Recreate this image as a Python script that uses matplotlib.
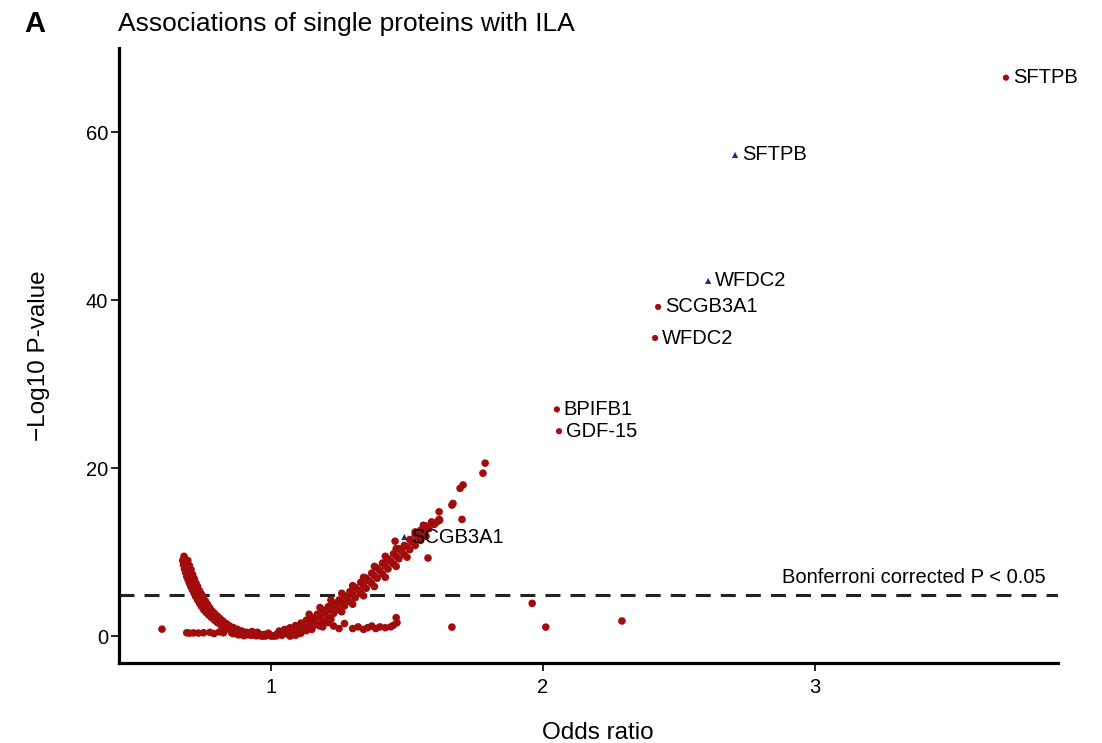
"""Volcano-style plot: single protein associations with ILA."""

from matplotlib import pyplot as plt

plt.rcParams['font.family'] = ['Liberation Sans', 'DejaVu Sans']

RED = '#A10D0D'
BLUE = '#1B2A8A'

# Unlabelled proteins, odds ratio (OR) and -log10 P-value (P), grouped by region
left_or = [
    0.680, 0.684, 0.688, 0.692, 0.696, 0.700, 0.705, 0.710, 0.715, 0.720,
    0.726, 0.732, 0.738, 0.745, 0.752, 0.760, 0.768, 0.777, 0.786, 0.796,
    0.806, 0.817, 0.829, 0.842, 0.856, 0.871, 0.887, 0.904, 0.922, 0.941,
    0.961, 0.980,
    0.694, 0.700, 0.706, 0.712, 0.718, 0.724, 0.730, 0.737, 0.744, 0.751,
    0.758, 0.766, 0.774, 0.783, 0.792, 0.802, 0.812, 0.823, 0.835, 0.848,
    0.862, 0.877, 0.893, 0.910, 0.928, 0.947, 0.966,
    0.675, 0.678, 0.682, 0.686, 0.690, 0.695, 0.700, 0.705, 0.711, 0.717,
    0.723, 0.730, 0.737, 0.745, 0.753, 0.762, 0.771, 0.781, 0.792, 0.803,
    0.815, 0.828, 0.842, 0.857, 0.873, 0.890, 0.908, 0.927, 0.947,
]
left_p = [
    9.5, 9.1, 8.7, 8.2, 7.8, 7.4, 6.9, 6.5, 6.1, 5.7,
    5.3, 5.0, 4.6, 4.2, 3.8, 3.4, 3.1, 2.7, 2.4, 2.1,
    1.8, 1.5, 1.2, 1.0, 0.75, 0.55, 0.4, 0.25, 0.15, 0.08,
    0.03, 0.01,
    9.0, 8.4, 7.9, 7.3, 6.8, 6.3, 5.9, 5.4, 5.0, 4.6,
    4.2, 3.8, 3.4, 3.0, 2.7, 2.4, 2.1, 1.8, 1.5, 1.2,
    1.0, 0.8, 0.6, 0.45, 0.3, 0.2, 0.1,
    9.0, 8.5, 8.0, 7.6, 7.1, 6.7, 6.3, 5.9, 5.5, 5.1,
    4.7, 4.3, 3.9, 3.5, 3.1, 2.8, 2.5, 2.2, 1.9, 1.6,
    1.35, 1.1, 0.85, 0.65, 0.45, 0.3, 0.2, 0.1, 0.05,
]

bottom_or = [
    0.599, 0.690, 0.700, 0.715, 0.733, 0.752, 0.775, 0.790, 0.810, 0.825,
    0.830, 0.840, 0.855, 0.870, 0.890, 0.910, 0.930, 0.955, 0.975,
    0.860, 0.880, 0.900, 0.920, 0.940, 0.960, 0.980, 1.000, 1.020, 1.040,
    1.060, 1.080, 1.100, 0.950, 0.990, 1.030, 0.930, 1.010, 0.970,
]
bottom_p = [
    0.83, 0.40, 0.35, 0.38, 0.36, 0.40, 0.45, 0.30, 0.50, 0.40,
    0.95, 1.30, 0.40, 0.30, 0.20, 0.15, 0.30, 0.10, 0.20,
    0.30, 0.15, 0.05, 0.40, 0.30, 0.20, 0.15, 0.10, 0.20, 0.30,
    0.45, 0.20, 0.30, 0.45, 0.35, 0.50, 0.55, 0.0, 0.0,
]

right_or = [
    1.00, 1.02, 1.04, 1.06, 1.08, 1.10, 1.12, 1.14, 1.16, 1.18,
    1.20, 1.22, 1.24, 1.26, 1.28, 1.30, 1.32, 1.34, 1.36, 1.38,
    1.40, 1.42, 1.44, 1.46, 1.48, 1.50, 1.52, 1.54, 1.56, 1.58,
    1.60, 1.62,
    1.03, 1.05, 1.07, 1.09, 1.11, 1.13, 1.15, 1.17, 1.19, 1.21,
    1.23, 1.25, 1.27, 1.29, 1.31, 1.33, 1.35, 1.37, 1.39, 1.41,
    1.43, 1.45, 1.47, 1.49, 1.51, 1.53, 1.55, 1.57, 1.59,
    1.07, 1.09, 1.11, 1.13, 1.15, 1.17, 1.19, 1.21, 1.23, 1.25,
    1.27, 1.29, 1.31, 1.33, 1.35, 1.37, 1.39, 1.41, 1.43, 1.45,
    1.47, 1.49, 1.51, 1.53, 1.55, 1.57,
    1.14, 1.18, 1.22, 1.26, 1.30, 1.34, 1.38, 1.42, 1.46, 1.53, 1.56,
    1.18, 1.22, 1.26, 1.30, 1.34, 1.38, 1.42, 1.46, 1.50,
]
right_p = [
    0.0, 0.03, 0.1, 0.25, 0.5, 0.8, 1.1, 1.45, 1.8, 2.25,
    2.7, 3.1, 3.5, 3.95, 4.4, 4.95, 5.5, 6.05, 6.6, 7.2,
    7.8, 8.35, 8.9, 9.5, 10.1, 10.65, 11.2, 11.75, 12.3, 12.8,
    13.3, 13.8,
    0.6, 0.8, 1.0, 1.25, 1.55, 1.9, 2.2, 2.6, 3.1, 3.5,
    3.9, 4.3, 4.8, 5.3, 5.8, 6.4, 6.9, 7.5, 8.1, 8.7,
    9.2, 9.8, 10.4, 10.8, 11.5, 12.1, 12.6, 13.1, 13.6,
    0.0, 0.1, 0.35, 0.65, 1.0, 1.35, 1.8, 2.2, 2.7, 3.1,
    3.6, 4.1, 4.6, 5.2, 5.7, 6.3, 6.9, 7.4, 8.0, 8.6,
    9.2, 9.7, 10.3, 10.8, 11.4, 11.9,
    2.6, 3.4, 4.3, 5.1, 6.0, 7.0, 8.3, 9.5, 10.4, 12.4, 13.2,
    1.2, 2.0, 2.9, 3.8, 4.8, 5.9, 7.0, 8.3, 9.4,
]

fringe_or = [
    1.150, 1.190, 1.210, 1.230, 1.250, 1.270, 1.300, 1.320, 1.340, 1.355,
    1.370, 1.385, 1.400, 1.420, 1.440, 1.450, 1.460, 1.463,
]
fringe_p = [
    0.8, 1.1, 1.6, 1.2, 0.9, 1.5, 0.9, 1.1, 0.8, 1.0,
    1.2, 0.9, 1.1, 1.0, 1.1, 1.3, 2.2, 1.6,
]

outlier_or = [1.456, 1.577, 1.610, 1.618, 1.618, 1.665, 1.669, 1.695, 1.702, 1.706,
              1.779, 1.787, 1.665, 1.960, 2.010, 2.290]
outlier_p = [11.3, 9.3, 13.6, 14.8, 13.9, 15.6, 15.8, 17.6, 13.9, 18.0,
             19.4, 20.6, 1.07, 3.9, 1.07, 1.8]

# Labelled proteins
label_names = ['SFTPB', 'SFTPB', 'WFDC2', 'SCGB3A1', 'WFDC2', 'BPIFB1', 'GDF-15', 'SCGB3A1']
label_or = [3.702, 2.706, 2.607, 2.423, 2.412, 2.051, 2.059, 1.490]
label_p = [66.5, 57.3, 42.3, 39.2, 35.5, 27.0, 24.4, 11.8]
label_marker = ['o', '^', '^', 'o', 'o', 'o', 'o', '^']

bonferroni = 4.9

fig = plt.figure(figsize=(11.02, 7.43), dpi=100)
ax = fig.add_axes([0.108, 0.1077, 0.852, 0.8273])

for xs, ys in [(left_or, left_p), (bottom_or, bottom_p), (right_or, right_p),
               (fringe_or, fringe_p), (outlier_or, outlier_p)]:
    ax.scatter(xs, ys, s=30, color=RED, edgecolors='none', zorder=2)

for name, x, y, m in zip(label_names, label_or, label_p, label_marker):
    c = BLUE if m == '^' else RED
    ax.scatter([x], [y], s=20, marker=m, color=c, edgecolors='none', zorder=3)
    ax.annotate(name, (x, y), xytext=(5, 0), textcoords='offset points',
                va='center', ha='left', fontsize=14.5, color='black', zorder=4)

ax.axhline(bonferroni, color='#222222', lw=2.2, ls=(0, (4.9, 3.3)), zorder=1)
ax.text(3.846, 5.9, 'Bonferroni corrected P < 0.05', ha='right', va='bottom',
        fontsize=14.5)

ax.set_xlim(0.441, 3.893)
ax.set_ylim(-3.2, 70)
ax.set_xticks([1, 2, 3])
ax.set_yticks([0, 20, 40, 60])

for side in ['top', 'right']:
    ax.spines[side].set_visible(False)
for side in ['left', 'bottom']:
    ax.spines[side].set_linewidth(2.3)
ax.tick_params(axis='both', width=1.2, length=6, labelsize=14.5, color='black')
ax.tick_params(axis='x', pad=5)
ax.tick_params(axis='y', pad=2)

ax.set_xlabel('Odds ratio', fontsize=17.5)
ax.set_ylabel('\u2212Log10 P-value', fontsize=17.5)
ax.xaxis.set_label_coords(0.51, -0.096)
ax.yaxis.set_label_coords(-0.073, 0.5)

fig.text(0.107, 0.968, 'Associations of single proteins with ILA', fontsize=19, va='center')
fig.text(0.022, 0.968, 'A', fontsize=21, fontweight='bold', va='center')

fig.savefig('out.png', dpi=100)
